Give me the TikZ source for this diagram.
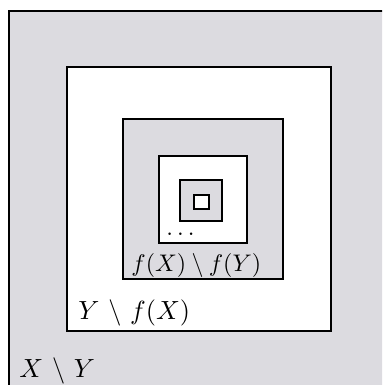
\documentclass[tikz,border=0pt]{standalone}
\definecolor{setgray}{RGB}{220,219,224}
\begin{document}
\begin{tikzpicture}[x=0.4167pt,y=-0.4167pt,
  box/.style={draw=black,line width=0.8pt},
  graybox/.style={box,fill=setgray},
  whitebox/.style={box,fill=white},
  lbl/.style={inner sep=0pt,anchor=base west},
  biglbl/.style={lbl,font=\fontsize{11}{13}\selectfont}]
\useasboundingbox (0,0) rectangle (382,385);
\clip (0,0) rectangle (382,385);
\draw[graybox] (9,11) rectangle (420,420);
\draw[whitebox] (67,67) rectangle (331,331);
\draw[graybox] (123,119) rectangle (283,279);
\draw[whitebox] (159,156) rectangle (247,243);
\draw[graybox] (180,180) rectangle (222,221);
\draw[whitebox] (194,195) rectangle (209,209);
\node[lbl] (dots) at (166,235) {$\dots$};
\node[lbl] (fxfy) at (131,271) {$f(X)\setminus f(Y)$};
\node[biglbl] (yfx) at (78,319) {$Y\mkern2mu\setminus\mkern2mu f(X)$};
\node[biglbl] (xy) at (19,377) {$X\mkern2mu\setminus\mkern2mu Y$};
\end{tikzpicture}
\end{document}
